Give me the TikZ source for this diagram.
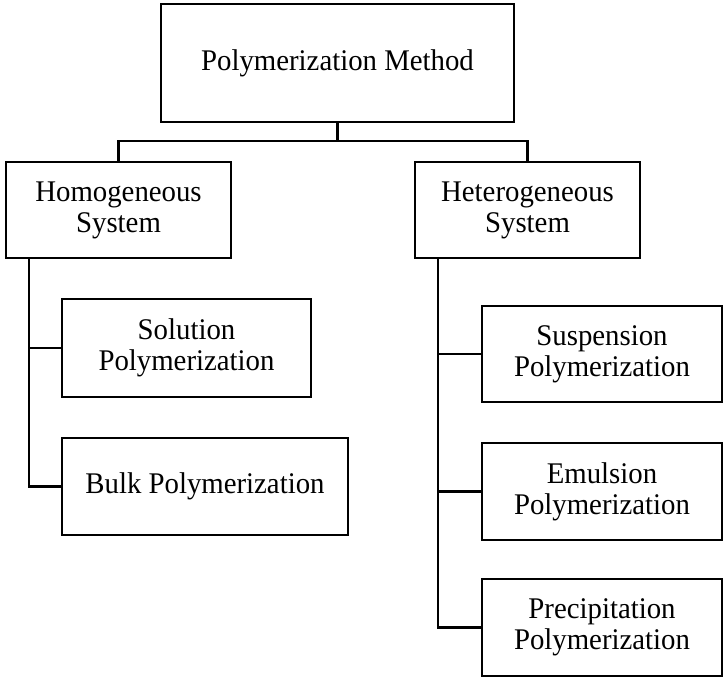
\documentclass[tikz,border=0pt]{standalone}
\usepackage{fontspec}
\setmainfont[FakeStretch=0.96]{Liberation Serif}
\begin{document}
\begin{tikzpicture}[x=1pt,y=-1pt,
  box/.style={draw=black, line width=2.6pt, inner sep=0pt, align=center,
    font=\fontsize{30}{31}\selectfont},
  link/.style={draw=black, line width=2.6pt}]
\useasboundingbox (0,0) rectangle (724,678);
\node[box, minimum width=353pt, minimum height=118pt] (top) at (337.5,63) {Polymerization Method};
\node[box, minimum width=225pt, minimum height=96pt] (homo) at (118.5,210) {Homogeneous\\System};
\node[box, minimum width=225pt, minimum height=96pt] (het) at (527.5,210) {Heterogeneous\\System};
\node[box, minimum width=249pt, minimum height=98pt] (sol) at (186.5,348) {Solution\\Polymerization};
\node[box, minimum width=286pt, minimum height=97pt] (bulk) at (205,486.5) {Bulk Polymerization};
\node[box, minimum width=240pt, minimum height=96pt] (sus) at (602,354) {Suspension\\Polymerization};
\node[box, minimum width=240pt, minimum height=97pt] (emu) at (602,491.5) {Emulsion\\Polymerization};
\node[box, minimum width=240pt, minimum height=97pt] (pre) at (602,627.5) {Precipitation\\Polymerization};
\coordinate (bar) at (337.5,141);
\coordinate (ls) at (29,258);
\coordinate (rs) at (438,258);
\draw[link] (top.south) -- (bar);
\draw[link] (homo.north) |- (bar) -| (het.north);
\draw[link] (ls) |- (sol.west);
\draw[link] (ls) |- (bulk.west);
\draw[link] (rs) |- (sus.west);
\draw[link] (rs) |- (emu.west);
\draw[link] (rs) |- (pre.west);
\end{tikzpicture}
\end{document}
